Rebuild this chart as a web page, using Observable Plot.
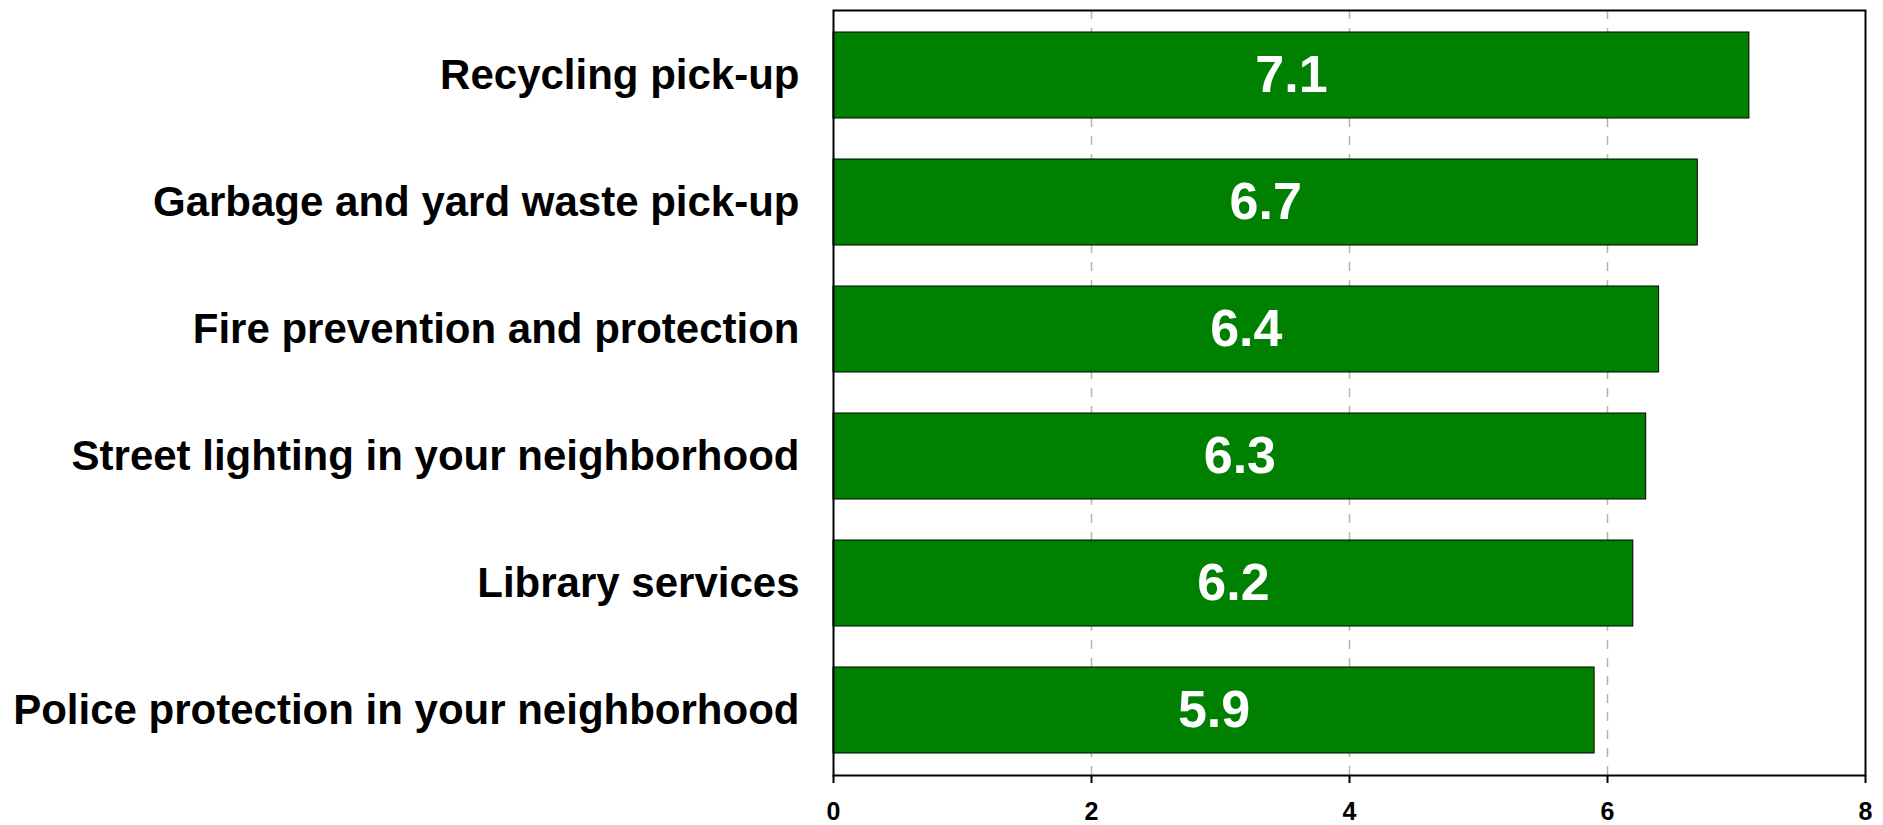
<!DOCTYPE html>
<html><head><meta charset="utf-8">
<script src="https://cdn.jsdelivr.net/npm/d3@7"></script>
<script src="https://cdn.jsdelivr.net/npm/@observablehq/plot@0.6"></script>
<style>body{margin:0;background:#fff}</style>
</head><body><div id="chart"></div>
<script>
const services = [
  "Recycling pick-up",
  "Garbage and yard waste pick-up",
  "Fire prevention and protection",
  "Street lighting in your neighborhood",
  "Library services",
  "Police protection in your neighborhood"
];
const scores = [7.1, 6.7, 6.4, 6.3, 6.2, 5.9];
const xTicks = [0, 2, 4, 6, 8];
const gridTicks = [2, 4, 6];

const data = services.map((s, i) => ({service: s, score: scores[i]}));

const chart = Plot.plot({
  width: 1883, height: 825,
  marginLeft: 833, marginRight: 18, marginTop: 10, marginBottom: 50,
  style: {fontFamily: "'Liberation Sans', Arial, sans-serif", fontWeight: "bold", fontSize: "25px", background: "#fff", color: "#000", overflow: "visible"},
  x: {domain: [0, 8], label: null},
  y: {domain: services, paddingInner: 0.325, paddingOuter: 0.16, label: null},
  marks: [
    Plot.ruleX(gridTicks, {stroke: "#b4b4b4", strokeDasharray: "9,9", strokeWidth: 1.5}),
    Plot.barX(data, {y: "service", x: "score", fill: "#008000", stroke: "#000", strokeWidth: 1}),
    Plot.text(data, {y: "service", x: d => d.score / 2, text: d => d.score.toFixed(1), fill: "#fff", fontSize: 52, fontWeight: "bold"}),
    Plot.frame({stroke: "#000", strokeWidth: 2}),
    Plot.axisX({ticks: xTicks, tickSize: 8, tickPadding: 19, fontSize: 25, fontWeight: "bold", strokeWidth: 2, label: null, tickFormat: d => String(d)}),
    Plot.axisY({tickSize: 0, tickPadding: 34, fontSize: 42, fontWeight: "bold", label: null})
  ]
});
d3.select(chart).selectAll('g[aria-label="x-axis tick label"]').attr("font-size", 25).selectAll("text").attr("font-size", 25);
document.getElementById("chart").appendChild(chart);
</script>
</body></html>
